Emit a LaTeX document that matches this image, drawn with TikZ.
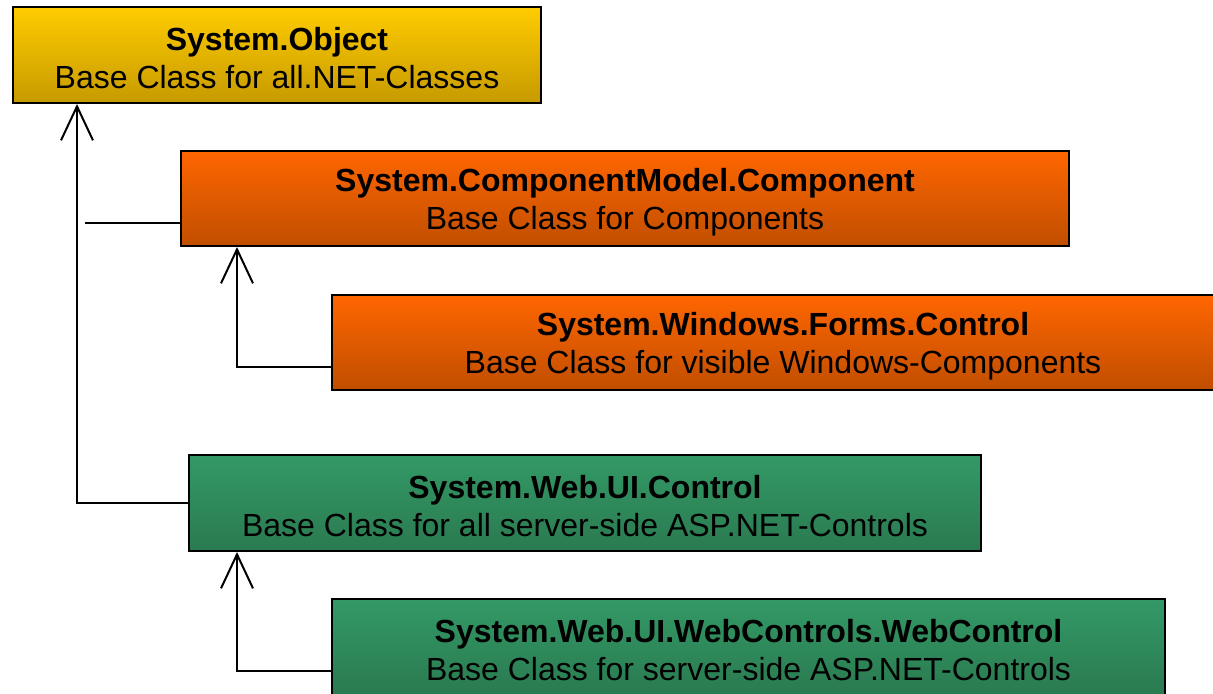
\documentclass[tikz,border=0pt]{standalone}
\usepackage{fontspec}
\setmainfont{Liberation Sans}
\usetikzlibrary{positioning, calc, arrows.meta}
\definecolor{goldtop}{HTML}{FFCC00}
\definecolor{goldbot}{HTML}{C69A00}
\definecolor{orngtop}{HTML}{FF6600}
\definecolor{orngbot}{HTML}{C04E00}
\definecolor{grntop}{HTML}{339966}
\definecolor{grnbot}{HTML}{2A7A50}
\newcommand{\clsname}[1]{\rule{0pt}{15pt}\textbf{#1}}

\begin{document}
\begin{tikzpicture}[x=0.5pt, y=-0.5pt,
    cls/.style={draw=black, line width=1pt, inner sep=0pt, align=center, font=\fontsize{16}{19}\selectfont},
    gold/.style={cls, top color=goldtop, bottom color=goldbot},
    orng/.style={cls, top color=orngtop, bottom color=orngbot},
    grn/.style={cls, top color=grntop, bottom color=grnbot},
    inherit/.style={draw=black, line width=1pt, -{Straight Barb[length=17pt, width=16pt, line width=1pt]}}]
            \useasboundingbox (0,0) rectangle (1213,694);
            \clip (0,0) rectangle (1213,694);
            \node[gold, minimum width=264pt, minimum height=48pt] (obj) at (277,55) {\clsname{System.Object}\\Base Class for all.NET-Classes};
            \node[orng, minimum width=444pt, minimum height=47.5pt] (comp) at (625,198.5) {\clsname{System.ComponentModel.Component}\\Base Class for Components};
            \node[orng, minimum width=451pt, minimum height=47.5pt] (forms) at (783,342.5) {\clsname{System.Windows.Forms.Control}\\Base Class for visible Windows-Components};
            \node[grn, minimum width=396pt, minimum height=48pt] (web) at (585,503) {\clsname{System.Web.UI.Control}\\Base Class for all server-side ASP.NET-Controls};
            \node[grn, minimum width=416.5pt, minimum height=48pt] (webctl) at (748.5,647) {\clsname{System.Web.UI.WebControls.WebControl}\\Base Class for server-side ASP.NET-Controls};
            % trunk from System.Object
            \coordinate (trunk) at (77,503);
            \coordinate (stub) at (85,223);
            \draw[inherit] (trunk -| web.west) -- (trunk) -- (trunk |- obj.south);
            \draw[line width=1pt] (comp.west |- stub) -- (stub);
            % sub classes
            \coordinate (compbend) at (237,367);
            \coordinate (webbend) at (237,671);
            \draw[inherit] (forms.west |- compbend) -- (compbend) -- (compbend |- comp.south);
            \draw[inherit] (webctl.west |- webbend) -- (webbend) -- (webbend |- web.south);
\end{tikzpicture}
\end{document}
